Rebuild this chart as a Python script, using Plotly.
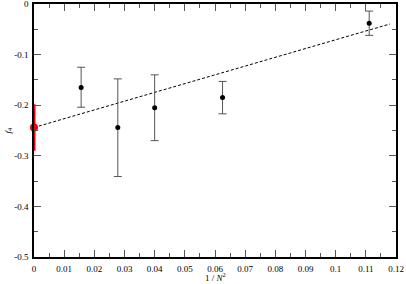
import plotly.graph_objects as go

# data
inv_n2 = [1/64, 1/36, 1/25, 1/16, 1/9]
f4 = [-0.165, -0.244, -0.205, -0.185, -0.038]
err_plus = [0.040, 0.096, 0.065, 0.032, 0.024]
err_minus = [0.039, 0.097, 0.065, 0.032, 0.024]

extrap_x = [0.0]
extrap_y = [-0.244]
extrap_plus = [0.046]
extrap_minus = [0.046]

fit_x = [0.0, 0.118]
fit_y = [-0.244, -0.0395]

x_ticks = [0, 0.01, 0.02, 0.03, 0.04, 0.05, 0.06, 0.07, 0.08, 0.09, 0.1, 0.11, 0.12]
x_labels = ["0", "0.01", "0.02", "0.03", "0.04", "0.05", "0.06", "0.07", "0.08", "0.09", "0.1", "0.11", "0.12"]
y_ticks = [0, -0.1, -0.2, -0.3, -0.4, -0.5]
y_labels = ["0", "-0.1", "-0.2", "-0.3", "-0.4", "-0.5"]

font = "Liberation Serif, Times New Roman, serif"

fig = go.Figure()
fig.add_trace(go.Scatter(
    x=fit_x, y=fit_y, mode="lines",
    line=dict(color="black", width=1, dash="3px,2px"),
    hoverinfo="skip", showlegend=False,
))
fig.add_trace(go.Scatter(
    x=inv_n2, y=f4, mode="markers",
    marker=dict(color="black", size=5),
    error_y=dict(type="data", symmetric=False, array=err_plus, arrayminus=err_minus,
                 color="#555555", thickness=1, width=4),
    showlegend=False,
))
fig.add_trace(go.Scatter(
    x=extrap_x, y=extrap_y, mode="markers",
    marker=dict(color="#e8000b", size=8),
    error_y=dict(type="data", symmetric=False, array=extrap_plus, arrayminus=extrap_minus,
                 color="#e8000b", thickness=3, width=0),
    cliponaxis=False, showlegend=False,
))

axis_common = dict(
    showline=True, linecolor="black", linewidth=1.5, mirror="ticks",
    ticks="inside", ticklen=7, tickwidth=1, tickcolor="#555555",
    showgrid=False, zeroline=False, automargin=False, ticklabeloverflow="allow",
    tickfont=dict(family=font, size=9, color="black"),
)

fig.update_layout(
    width=406, height=284,
    margin=dict(l=34, r=10, t=4, b=27),
    plot_bgcolor="white", paper_bgcolor="white",
    font=dict(family=font, size=9, color="black"),
    xaxis=dict(
        range=[0, 0.12], tickmode="array", tickvals=x_ticks, ticktext=x_labels,
        minor=dict(tickmode="linear", tick0=0, dtick=0.005, ticks="inside", ticklen=4,
                   tickcolor="#555555", tickwidth=1, showgrid=False),
        ticklabelstandoff=2,
        **axis_common,
    ),
    yaxis=dict(
        range=[-0.5, 0], tickmode="array", tickvals=y_ticks, ticktext=y_labels,
        minor=dict(tickmode="linear", tick0=0, dtick=0.05, ticks="inside", ticklen=4,
                   tickcolor="#555555", tickwidth=1, showgrid=False),
        ticklabelstandoff=2,
        **axis_common,
    ),
    annotations=[
        dict(text="1 / <i>N</i><sup>2</sup>", xref="paper", yref="paper", x=0.5, y=0,
             yshift=-20, xanchor="center", yanchor="middle", showarrow=False,
             font=dict(family=font, size=9)),
        dict(text="<i>f</i><sub>4</sub>", xref="paper", yref="paper", x=0, y=0.5,
             xshift=-26, xanchor="center", yanchor="middle", textangle=-90, showarrow=False,
             font=dict(family=font, size=9)),
    ],
)

fig.write_html("out.html", config={"displayModeBar": False},
               post_script="document.body.style.margin='0';document.body.style.padding='0';")
